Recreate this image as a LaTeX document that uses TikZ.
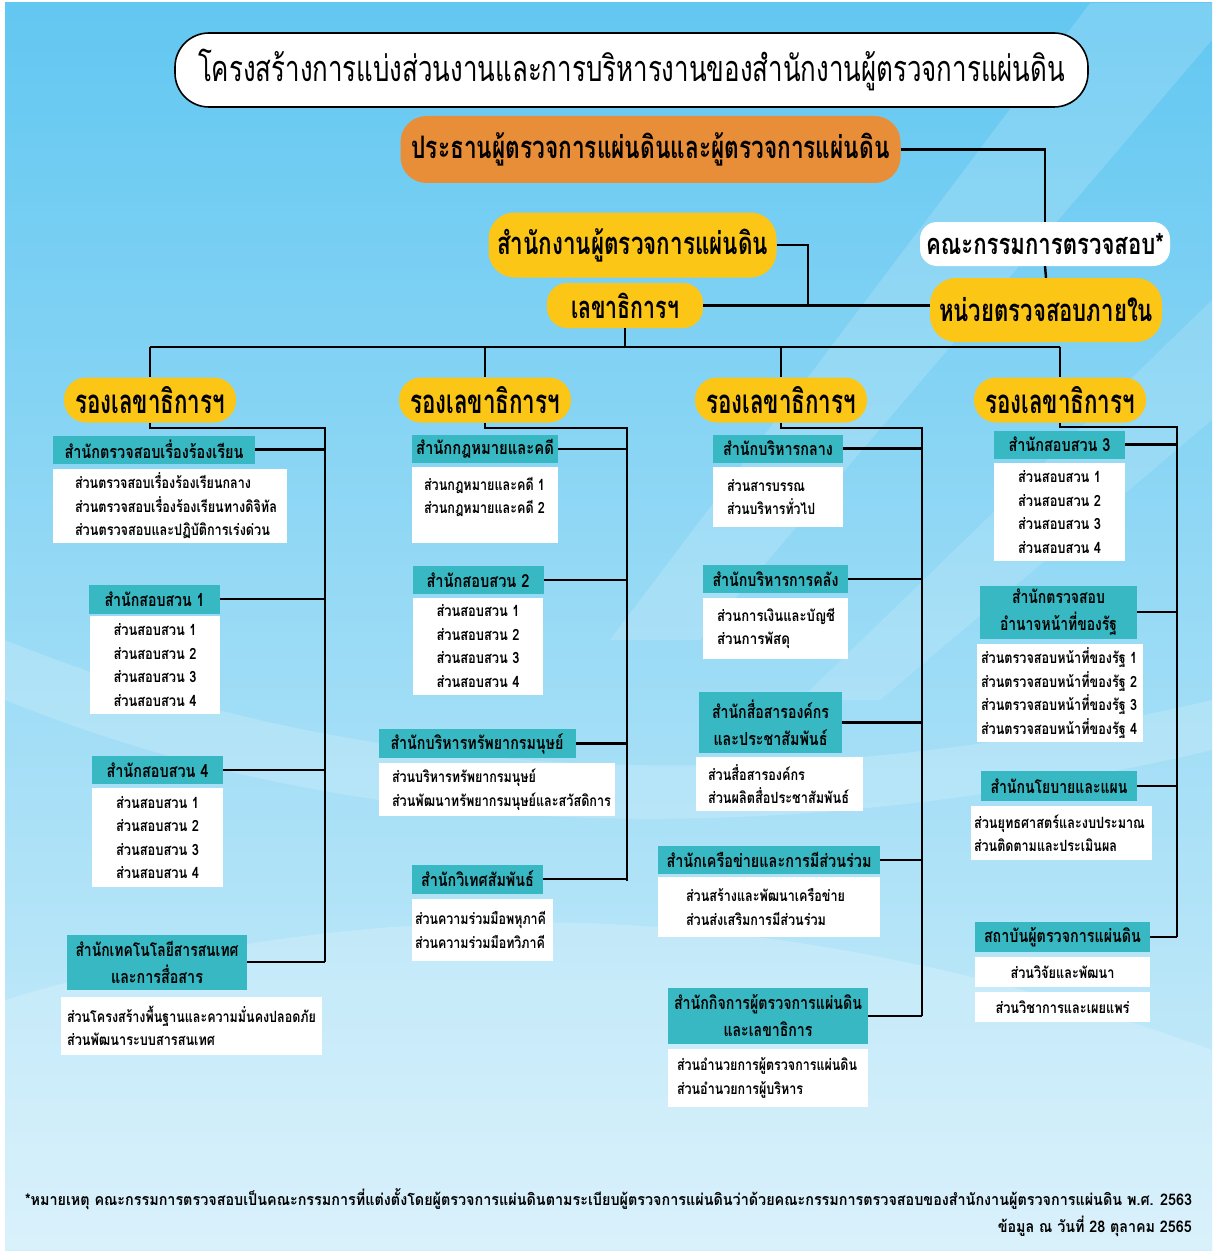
\documentclass[tikz,border=0pt]{standalone}
\usepackage{fontspec}
\setmainfont[Script=Thai]{Loma}
\usetikzlibrary{shapes.misc}
\definecolor{bgTop}{RGB}{98,199,241}
\definecolor{bgMid}{RGB}{140,214,245}
\definecolor{bgBot}{RGB}{208,238,250}
\definecolor{ocYellow}{RGB}{251,198,22}
\definecolor{ocOrange}{RGB}{232,141,56}
\definecolor{ocTeal}{RGB}{55,184,195}
\newsavebox\fitbox
\newcommand\fw[2]{\sbox\fitbox{#2}\pgfmathsetmacro\fitr{#1/\wd\fitbox}\scalebox{\fitr}[1]{\usebox\fitbox}}
\begin{document}
\begin{tikzpicture}[x=1pt,y=-1pt,
  conn/.style={draw=black,line width=2.4pt},
  toptitle/.style={draw=black,line width=1.6pt,fill=white,rounded corners=34pt,inner sep=0pt,font=\fontsize{36}{40}\selectfont},
  orangebox/.style={fill=ocOrange,rounded corners=26pt,inner sep=0pt,font=\bfseries\fontsize{31}{36}\selectfont},
  yelbox/.style={fill=ocYellow,inner sep=0pt,font=\bfseries\fontsize{31}{36}\selectfont},
  cmtbox/.style={fill=white,rounded corners=17pt,inner sep=0pt,font=\bfseries\fontsize{29}{34}\selectfont},
  deputy/.style={fill=ocYellow,rounded corners=22pt,minimum width=172,minimum height=45,inner sep=0pt,font=\bfseries\fontsize{33}{36}\selectfont},
  head/.style={fill=ocTeal,inner sep=0pt,align=center,font=\bfseries\fontsize{18}{27}\selectfont},
  wbox/.style={fill=white,inner sep=0pt,font=\bfseries\fontsize{15.5}{23.5}\selectfont},
  wtxt/.style={inner sep=0pt,font=\bfseries\fontsize{15.5}{23.5}\selectfont},
  foot/.style={inner sep=0pt,font=\bfseries\fontsize{16}{20}\selectfont}]
\useasboundingbox (0,0) rectangle (1216,1252);
% background
\fill[white] (0,0) rectangle (1216,1252);
\shade[top color=bgTop,middle color=bgMid,bottom color=bgBot] (5,3) rectangle (1212,1250);
\fill[white,opacity=0.16] (1090,3) -- (1212,3) -- (1212,40) -- (700,640) -- (610,640) -- cycle;
\fill[white,opacity=0.14] (1212,300) -- (1212,420) -- (880,700) -- (800,700) -- cycle;
\fill[white,opacity=0.18] (5,640) .. controls (300,760) and (700,820) .. (1212,700) -- (1212,750) .. controls (700,870) and (300,820) .. (5,700) -- cycle;
\fill[white,opacity=0.2] (5,1000) .. controls (400,880) and (800,900) .. (1212,1050) -- (1212,1250) -- (5,1250) -- cycle;

% top level
\node[toptitle,minimum width=913,minimum height=74] (title) at (631.5,70) {\fw{867}{โครงสร้างการแบ่งส่วนงานและการบริหารงานของสำนักงานผู้ตรวจการแผ่นดิน}};
\node[orangebox,minimum width=500,minimum height=67] (pres) at (650.5,149.5) {\fw{478}{ประธานผู้ตรวจการแผ่นดินและผู้ตรวจการแผ่นดิน}};
\node[yelbox,rounded corners=26pt,minimum width=288,minimum height=65] (office) at (632.5,245) {\fw{271}{สำนักงานผู้ตรวจการแผ่นดิน}};
\node[yelbox,rounded corners=20pt,minimum width=156,minimum height=45] (sec) at (625,305.5) {\fw{108}{เลขาธิการฯ}};
\node[cmtbox,minimum width=250,minimum height=44] (cmt) at (1045,244) {\fw{238}{คณะกรรมการตรวจสอบ*}};
\node[yelbox,rounded corners=26pt,minimum width=232,minimum height=64] (audit) at (1046,310) {\fw{214}{หน่วยตรวจสอบภายใน}};

\coordinate (j1) at (808,305.5);
\coordinate (busL) at (150,347);
\coordinate (busR) at (1060,347);
\draw[conn] (pres.east) -| (cmt.north);
\draw[conn] (cmt.south) -- (audit.north);
\draw[conn] (office.east) -| (j1);
\draw[conn] (sec.east) -- (sec.east -| audit.west);
\draw[conn] (sec.south) -- (sec.south |- busL);
\draw[conn] (busL) -- (busR);

% deputies
\node[deputy] (rd1) at (150,400) {\fw{150}{รองเลขาธิการฯ}};
\node[deputy] (rd2) at (485,400) {\fw{150}{รองเลขาธิการฯ}};
\node[deputy] (rd3) at (781,400) {\fw{150}{รองเลขาธิการฯ}};
\node[deputy] (rd4) at (1060,400) {\fw{150}{รองเลขาธิการฯ}};
\foreach \r in {rd1,rd2,rd3,rd4} {\draw[conn] (\r.north |- busL) -- (\r.north);}

% column buses
\coordinate (c1t) at (325,428); \coordinate (c1b) at (325,962);
\coordinate (c2t) at (627,428); \coordinate (c2b) at (627,881);
\coordinate (c3t) at (922,428); \coordinate (c3b) at (922,1016);
\coordinate (c4t) at (1177,427); \coordinate (c4b) at (1177,937);
\draw[conn] (rd1.south) |- (c1t) -- (c1b);
\draw[conn] (rd2.south) |- (c2t) -- (c2b);
\draw[conn] (rd3.south) |- (c3t) -- (c3b);
\draw[conn] (rd4.south) |- (c4t) -- (c4b);

% ---------- column 1
\node[head,minimum width=202,minimum height=28] (h11) at (154,449.5) {\fw{179}{สำนักตรวจสอบเรื่องร้องเรียน}};
\node[wbox,minimum width=234,minimum height=74,text width=190,inner xsep=22,align=left] (b11) at (170,506) {\fw{176}{ส่วนตรวจสอบเรื่องร้องเรียนกลาง}\\\fw{202}{ส่วนตรวจสอบเรื่องร้องเรียนทางดิจิทัล}\\\fw{195}{ส่วนตรวจสอบและปฏิบัติการเร่งด่วน}};
\node[head,minimum width=131,minimum height=29] (h12) at (154.5,599) {\fw{100}{สำนักสอบสวน 1}};
\node[wbox,minimum width=130,minimum height=98,align=center] (b12) at (155,665) {\fw{83}{ส่วนสอบสวน 1}\\\fw{83}{ส่วนสอบสวน 2}\\\fw{83}{ส่วนสอบสวน 3}\\\fw{83}{ส่วนสอบสวน 4}};
\node[head,minimum width=131,minimum height=28] (h13) at (157.5,770) {\fw{102}{สำนักสอบสวน 4}};
\node[wbox,minimum width=131,minimum height=99,align=center] (b13) at (157.5,837.5) {\fw{83}{ส่วนสอบสวน 1}\\\fw{83}{ส่วนสอบสวน 2}\\\fw{83}{ส่วนสอบสวน 3}\\\fw{83}{ส่วนสอบสวน 4}};
\node[head,minimum width=180,minimum height=55] (h14) at (157,962) {\fw{163}{สำนักเทคโนโลยีสารสนเทศ}\\\fw{92}{และการสื่อสาร}};
\node[wbox,minimum width=261,minimum height=58,text width=249,inner xsep=6,align=left] (b14) at (191.5,1026) {\fw{249}{ส่วนโครงสร้างพื้นฐานและความมั่นคงปลอดภัย}\\\fw{148}{ส่วนพัฒนาระบบสารสนเทศ}};
\foreach \h in {h11,h12,h13,h14} {\draw[conn] (\h.east) -- (\h.east -| c1t);}

% ---------- column 2
\node[head,minimum width=146,minimum height=28] (h21) at (485,449) {\fw{138}{สำนักกฎหมายและคดี}};
\node[wbox,minimum width=146,minimum height=76] (b21) at (485,505) {};
\node[wtxt,align=left] (t21) at (484.5,497) {\fw{121}{ส่วนกฎหมายและคดี 1}\\\fw{121}{ส่วนกฎหมายและคดี 2}};
\node[head,minimum width=131,minimum height=28] (h22) at (478,580) {\fw{103}{สำนักสอบสวน 2}};
\node[wbox,minimum width=130,minimum height=97,align=center] (b22) at (478,646) {\fw{83}{ส่วนสอบสวน 1}\\\fw{83}{ส่วนสอบสวน 2}\\\fw{83}{ส่วนสอบสวน 3}\\\fw{83}{ส่วนสอบสวน 4}};
\node[head,minimum width=197,minimum height=29] (h23) at (477,743.5) {\fw{173}{สำนักบริหารทรัพยากรมนุษย์}};
\node[wbox,minimum width=236,minimum height=53,text width=210,inner xsep=13,align=left] (b23) at (497,789.5) {\fw{144}{ส่วนบริหารทรัพยากรมนุษย์}\\\fw{219}{ส่วนพัฒนาทรัพยากรมนุษย์และสวัสดิการ}};
\node[head,minimum width=131,minimum height=29] (h24) at (477.5,879) {\fw{113}{สำนักวิเทศสัมพันธ์}};
\node[wbox,minimum width=141,minimum height=62,text width=135,inner xsep=3,align=left] (b24) at (482.5,930) {\fw{131}{ส่วนความร่วมมือพหุภาคี}\\\fw{130}{ส่วนความร่วมมือทวิภาคี}};
\foreach \h in {h21,h22,h23,h24} {\draw[conn] (\h.east) -- (\h.east -| c2t);}

% ---------- column 3
\node[head,minimum width=130,minimum height=28] (h31) at (778,448.5) {\fw{110}{สำนักบริหารกลาง}};
\node[wbox,minimum width=130,minimum height=60,text width=102,inner xsep=14,align=left] (b31) at (778,497) {\fw{78}{ส่วนสารบรรณ}\\\fw{88}{ส่วนบริหารทั่วไป}};
\node[head,minimum width=145,minimum height=28] (h32) at (775.5,579) {\fw{126}{สำนักบริหารการคลัง}};
\node[wbox,minimum width=145,minimum height=61,text width=117,inner xsep=14,align=left] (b32) at (775.5,628.5) {\fw{118}{ส่วนการเงินและบัญชี}\\\fw{73}{ส่วนการพัสดุ}};
\node[head,minimum width=143,minimum height=61] (h33) at (770.5,722.5) {\fw{117}{สำนักสื่อสารองค์กร}\\\fw{114}{และประชาสัมพันธ์}};
\node[wbox,minimum width=161,minimum height=54,text width=143,inner xsep=12,align=left] (b33) at (779.5,784) {\fw{97}{ส่วนสื่อสารองค์กร}\\\fw{141}{ส่วนผลิตสื่อประชาสัมพันธ์}};
\node[head,minimum width=222,minimum height=28] (h34) at (769,860) {\fw{205}{สำนักเครือข่ายและการมีส่วนร่วม}};
\node[wbox,minimum width=222,minimum height=60,text width=166,inner xsep=28,align=left] (b34) at (769,907) {\fw{159}{ส่วนสร้างและพัฒนาเครือข่าย}\\\fw{140}{ส่วนส่งเสริมการมีส่วนร่วม}};
\node[head,minimum width=200,minimum height=56] (h35) at (768,1016) {\fw{188}{สำนักกิจการผู้ตรวจการแผ่นดิน}\\\fw{89}{และเลขาธิการ}};
\node[wbox,minimum width=200,minimum height=58,text width=182,inner xsep=9,align=left] (b35) at (768,1078) {\fw{180}{ส่วนอำนวยการผู้ตรวจการแผ่นดิน}\\\fw{126}{ส่วนอำนวยการผู้บริหาร}};
\foreach \h in {h31,h32,h33,h34,h35} {\draw[conn] (\h.east) -- (\h.east -| c3t);}

% ---------- column 4
\node[head,minimum width=131,minimum height=28] (h41) at (1059.5,444.5) {\fw{102}{สำนักสอบสวน 3}};
\node[wbox,minimum width=131,minimum height=98,align=center] (b41) at (1059.5,512) {\fw{83}{ส่วนสอบสวน 1}\\\fw{83}{ส่วนสอบสวน 2}\\\fw{83}{ส่วนสอบสวน 3}\\\fw{83}{ส่วนสอบสวน 4}};
\node[head,minimum width=157,minimum height=53] (h42) at (1058.5,612) {\fw{93}{สำนักตรวจสอบ}\\\fw{117}{อำนาจหน้าที่ของรัฐ}};
\node[wbox,minimum width=166,minimum height=98,text width=158,inner xsep=4,align=left] (b42) at (1060,693) {\fw{156}{ส่วนตรวจสอบหน้าที่ของรัฐ 1}\\\fw{156}{ส่วนตรวจสอบหน้าที่ของรัฐ 2}\\\fw{156}{ส่วนตรวจสอบหน้าที่ของรัฐ 3}\\\fw{156}{ส่วนตรวจสอบหน้าที่ของรัฐ 4}};
\node[head,minimum width=156,minimum height=30] (h43) at (1059,786) {\fw{137}{สำนักนโยบายและแผน}};
\node[wbox,minimum width=181,minimum height=54,text width=175,inner xsep=3,align=left] (b43) at (1061.5,833) {\fw{171}{ส่วนยุทธศาสตร์และงบประมาณ}\\\fw{143}{ส่วนติดตามและประเมินผล}};
\node[head,minimum width=175,minimum height=30] (h44) at (1062.5,937) {\fw{157}{สถาบันผู้ตรวจการแผ่นดิน}};
\node[wbox,minimum width=175,minimum height=30,align=center] (b44a) at (1062.5,972) {\fw{104}{ส่วนวิจัยและพัฒนา}};
\node[wbox,minimum width=175,minimum height=30,align=center] (b44b) at (1062.5,1007) {\fw{134}{ส่วนวิชาการและเผยแพร่}};
\foreach \h in {h41,h42,h43,h44} {\draw[conn] (\h.east) -- (\h.east -| c4t);}

% footer
\node[foot] (note) at (608.5,1199) {\fw{1167}{*หมายเหตุ คณะกรรมการตรวจสอบเป็นคณะกรรมการที่แต่งตั้งโดยผู้ตรวจการแผ่นดินตามระเบียบผู้ตรวจการแผ่นดินว่าด้วยคณะกรรมการตรวจสอบของสำนักงานผู้ตรวจการแผ่นดิน พ.ศ. 2563}};
\node[foot,anchor=east] (date) at (1192,1226) {\fw{194}{ข้อมูล ณ วันที่ 28 ตุลาคม 2565}};
\end{tikzpicture}
\end{document}
